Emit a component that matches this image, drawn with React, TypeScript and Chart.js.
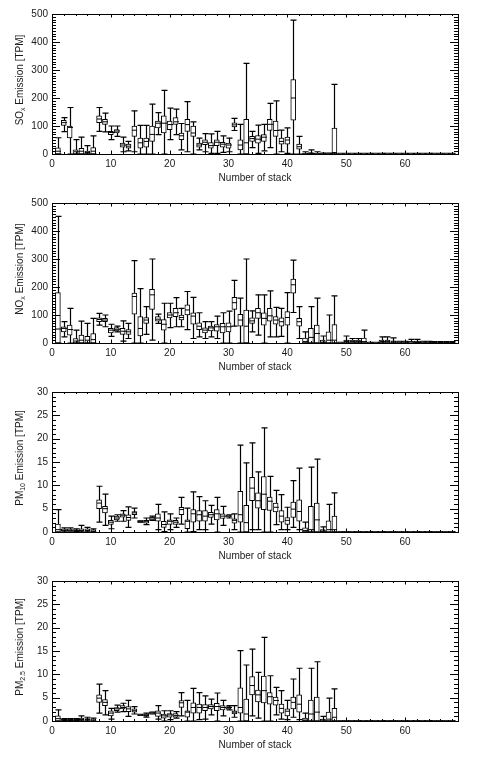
import React, { useEffect, useRef } from "react";
import { Chart, registerables } from "chart.js";

Chart.register(...registerables);

// ---------- categories ----------
const stacks = [
  1, 2, 3, 4, 5, 6, 7, 8, 9, 10, 11, 12, 13, 14, 15, 16, 17, 18, 19, 20,
  21, 22, 23, 24, 25, 26, 27, 28, 29, 30, 31, 32, 33, 34, 35, 36, 37, 38, 39, 40,
  41, 42, 43, 44, 45, 46, 47, 48, 49, 50, 51, 52, 53, 54, 55, 56, 57, 58, 59, 60,
  61, 62, 63, 64, 65, 66, 67, 68,
];
const xTickLabels = [0, 10, 20, 30, 40, 50, 60];

// ---------- SOx ----------
const soxMin = [0, 80, 0, 0, 0, 0, 0, 81, 79, 51, 63, 8, 11, 8, 0, 0, 0, 69, 0, 51,
  69, 15, 8, 0, 15, 8, 2, 2, 6, 8, 84, 0, 0, 23, 2, 11, 23, 0, 8, 2,
  0, 0, 0, 0, 0, 0, 0, 0, 0, 0, 0, 0, 0, 0, 0, 0, 0, 0, 0, 0, 0, 0, 0, 0, 0, 0, 0, 0];
const soxQ1 = [0, 102, 57, 0, 0, 0, 0, 112, 106, 69, 75, 24, 21, 63, 21, 24, 45, 93, 75, 87,
  106, 51, 81, 63, 24, 33, 21, 30, 24, 21, 97, 15, 0, 45, 39, 45, 84, 63, 35, 35,
  121, 17, 0, 0, 0, 0, 0, 0, 0, 0, 0, 0, 0, 0, 0, 0, 0, 0, 0, 0, 0, 0, 0, 0, 0, 0, 0, 0];
const soxMed = [10, 112, 95, 8, 10, 5, 10, 125, 115, 77, 82, 32, 28, 85, 40, 45, 70, 110, 110, 105,
  115, 65, 105, 75, 32, 42, 30, 42, 35, 32, 104, 32, 40, 55, 53, 60, 106, 84, 45, 50,
  200, 26, 1, 2, 1, 1, 1, 5, 0, 0, 0, 0, 0, 0, 0, 0, 0, 0, 0, 0, 0, 0, 0, 0, 0, 0, 0, 0];
const soxQ3 = [22, 120, 100, 15, 20, 10, 23, 136, 124, 81, 87, 39, 35, 100, 57, 57, 100, 118, 136, 118,
  130, 75, 124, 100, 39, 51, 41, 51, 42, 39, 111, 51, 124, 63, 66, 69, 124, 118, 57, 60,
  266, 35, 3, 5, 3, 3, 3, 93, 2, 2, 2, 2, 2, 2, 2, 2, 2, 2, 2, 2, 2, 2, 2, 2, 2, 2, 2, 2];
const soxMax = [58, 130, 166, 51, 60, 30, 65, 166, 146, 100, 100, 60, 45, 154, 102, 102, 178, 148, 227, 164,
  160, 109, 187, 115, 57, 73, 72, 81, 65, 57, 127, 106, 324, 81, 103, 106, 181, 190, 85, 93,
  478, 63, 8, 15, 8, 3, 3, 249, 2, 2, 2, 2, 2, 2, 2, 2, 2, 2, 2, 2, 2, 2, 2, 2, 2, 2, 2, 2];

// ---------- NOx ----------
const noxMin = [0, 22, 0, 0, 0, 0, 0, 64, 58, 24, 40, 7, 16, 0, 0, 31, 10, 70, 0, 55,
  58, 58, 48, 16, 22, 16, 22, 16, 0, 0, 60, 0, 0, 40, 28, 0, 22, 22, 24, 0,
  109, 16, 0, 0, 0, 0, 0, 0, 0, 0, 0, 0, 0, 0, 0, 0, 0, 0, 0, 0, 0, 2, 0, 0, 0, 0, 0, 0];
const noxQ1 = [0, 40, 28, 0, 0, 0, 0, 76, 76, 36, 43, 31, 31, 103, 25, 70, 120, 78, 46, 90,
  94, 82, 100, 67, 48, 36, 43, 42, 36, 40, 120, 60, 0, 70, 88, 64, 78, 67, 60, 64,
  178, 60, 0, 0, 0, 0, 0, 0, 0, 0, 0, 0, 0, 0, 0, 0, 0, 0, 0, 0, 0, 2, 0, 0, 0, 0, 0, 0];
const noxMed = [50, 52, 48, 7, 10, 10, 12, 84, 82, 46, 49, 42, 40, 166, 52, 82, 172, 85, 67, 100,
  108, 91, 118, 96, 60, 46, 54, 58, 58, 58, 144, 82, 60, 79, 108, 88, 97, 82, 76, 91,
  208, 76, 5, 20, 34, 3, 10, 10, 0, 5, 5, 5, 5, 0, 0, 5, 5, 4, 3, 3, 4, 4, 3, 3, 2, 2, 2, 2];
const noxQ3 = [180, 58, 64, 16, 28, 24, 34, 90, 88, 52, 55, 52, 48, 178, 94, 91, 192, 94, 84, 109,
  124, 100, 136, 108, 72, 54, 60, 66, 70, 72, 163, 102, 118, 90, 124, 108, 124, 94, 90, 112,
  228, 88, 18, 52, 64, 10, 40, 66, 2, 10, 10, 10, 18, 2, 2, 10, 10, 8, 6, 6, 6, 7, 6, 6, 5, 5, 5, 5];
const noxMax = [452, 76, 124, 46, 78, 70, 88, 106, 100, 67, 60, 79, 70, 294, 194, 130, 300, 103, 142, 142,
  162, 124, 184, 163, 108, 76, 76, 96, 108, 114, 224, 160, 300, 115, 172, 172, 186, 127, 124, 180,
  296, 130, 40, 130, 160, 25, 100, 168, 2, 25, 16, 16, 46, 2, 2, 22, 22, 18, 6, 6, 13, 13, 6, 6, 5, 5, 5, 5];

// ---------- PM10 ----------
const pm10Min = [0, 0.2, 0.2, 0.1, 0, 0, 0, 2.1, 1.4, 0.7, 2.3, 2.3, 1.0, 3.0, 2.1, 1.6, 2.5, 0.5, 0.1, 0.5,
  1.0, 1.7, 0, 0.1, 0.5, 0.5, 1.7, 0, 1.4, 3.0, 0.5, 0, 0, 0.5, 0.5, 0, 0, 1.6, 0.5, 0.5,
  1.0, 0.5, 0, 0, 0, 0, 0, 0, 0, 0, 0, 0, 0, 0, 0, 0, 0, 0, 0, 0, 0, 0, 0, 0, 0, 0, 0, 0];
const pm10Q1 = [0, 0.3, 0.3, 0.2, 0.1, 0.1, 0.1, 5.0, 4.1, 1.6, 2.6, 3.2, 2.5, 3.7, 2.1, 1.9, 2.6, 2.3, 1.0, 1.6,
  1.6, 3.7, 0.7, 2.1, 2.3, 2.3, 3.1, 2.6, 2.9, 3.2, 1.9, 2.1, 0, 6.7, 5.1, 4.8, 4.6, 4.3, 2.1, 1.6,
  3.1, 2.3, 0, 0, 0, 0, 0, 0, 0, 0, 0, 0, 0, 0, 0, 0, 0, 0, 0, 0, 0, 0, 0, 0, 0, 0, 0, 0];
const pm10Med = [0.5, 0.4, 0.4, 0.3, 0.3, 0.3, 0.2, 6.2, 5.0, 2.1, 3.0, 3.6, 3.1, 4.1, 2.2, 2.3, 3.0, 3.0, 1.6, 2.3,
  2.1, 4.8, 2.3, 3.9, 3.7, 3.4, 3.7, 3.9, 3.4, 3.4, 2.5, 3.7, 2.0, 9.4, 6.7, 8.1, 6.6, 5.3, 3.4, 2.5,
  4.9, 4.4, 0.3, 0.5, 2.6, 0.2, 0.5, 0.5, 0, 0, 0, 0, 0, 0, 0, 0, 0, 0, 0, 0, 0, 0, 0, 0, 0, 0, 0, 0];
const pm10Q3 = [1.7, 0.6, 0.6, 0.5, 0.7, 0.7, 0.5, 6.9, 5.5, 2.5, 3.4, 3.9, 3.7, 4.4, 2.4, 2.5, 3.2, 3.9, 2.3, 2.6,
  2.5, 5.3, 2.6, 4.8, 4.6, 4.6, 4.2, 4.8, 3.9, 3.6, 2.8, 8.7, 5.7, 11.7, 8.4, 11.9, 7.5, 6.2, 4.6, 3.1,
  6.4, 6.9, 0.9, 5.5, 6.2, 0.5, 2.4, 3.4, 0.1, 0.1, 0.1, 0.1, 0.1, 0.1, 0.1, 0.1, 0.1, 0.1, 0.1, 0.1, 0.1, 0.1, 0.1, 0.1, 0.1, 0.1, 0.1, 0.1];
const pm10Max = [4.8, 0.9, 0.9, 0.7, 1.4, 1.0, 0.7, 9.8, 8.1, 3.4, 3.7, 4.6, 5.4, 5.1, 2.4, 3.0, 3.4, 5.9, 4.3, 3.9,
  3.0, 7.4, 5.1, 8.6, 7.6, 6.7, 5.7, 7.4, 5.5, 3.7, 3.9, 18.6, 14.8, 19.1, 12.9, 22.3, 11.9, 8.9, 8.0, 5.3,
  11.0, 13.7, 2.1, 13.9, 15.6, 1.1, 5.9, 8.4, 0.1, 0.1, 0.1, 0.1, 0.1, 0.1, 0.1, 0.1, 0.1, 0.1, 0.1, 0.1, 0.1, 0.1, 0.1, 0.1, 0.1, 0.1, 0.1, 0.1];

// ---------- PM2.5 ----------
const pm25Min = [0, 0.1, 0.1, 0.1, 0, 0, 0, 1.7, 1.3, 0.4, 1.9, 2.0, 1.0, 1.5, 1.2, 0.8, 1.5, 0.4, 0, 0.3,
  0.6, 1.1, 0, 0, 0.3, 0.4, 1.3, 0, 1.1, 2.4, 0.8, 0, 0, 1.1, 0.6, 0, 0, 1.3, 0.4, 0.3,
  0.8, 0.3, 0, 0, 0, 0, 0, 0, 0, 0, 0, 0, 0, 0, 0, 0, 0, 0, 0, 0, 0, 0, 0, 0, 0, 0, 0, 0];
const pm25Q1 = [0, 0.2, 0.2, 0.2, 0.1, 0.1, 0.1, 4.0, 3.3, 1.1, 2.2, 2.6, 2.0, 1.9, 1.2, 1.0, 1.5, 1.0, 0.6, 0.8,
  0.8, 2.9, 0.8, 1.7, 1.7, 2.2, 2.6, 2.2, 2.4, 2.6, 1.5, 1.7, 0, 5.6, 4.1, 3.9, 3.6, 3.4, 1.7, 1.1,
  2.6, 1.9, 0, 0, 0, 0, 0, 0, 0, 0, 0, 0, 0, 0, 0, 0, 0, 0, 0, 0, 0, 0, 0, 0, 0, 0, 0, 0];
const pm25Med = [0.5, 0.3, 0.3, 0.3, 0.3, 0.3, 0.2, 4.9, 4.0, 1.7, 2.6, 2.9, 2.6, 2.2, 1.3, 1.2, 1.7, 1.7, 1.1, 1.3,
  1.2, 3.9, 1.9, 2.9, 2.9, 2.9, 3.1, 3.1, 2.9, 2.9, 1.9, 2.9, 1.5, 7.6, 5.6, 6.5, 5.2, 4.4, 2.7, 2.1,
  4.0, 3.6, 0.2, 1.5, 1.9, 0.2, 0.4, 0.8, 0, 0, 0, 0, 0, 0, 0, 0, 0, 0, 0, 0, 0, 0, 0, 0, 0, 0, 0, 0];
const pm25Q3 = [1.1, 0.4, 0.4, 0.4, 0.6, 0.5, 0.4, 5.6, 4.6, 2.2, 2.9, 3.3, 3.1, 2.6, 1.4, 1.5, 1.9, 2.2, 1.5, 1.6,
  1.6, 4.4, 2.2, 3.9, 3.6, 3.5, 3.5, 3.8, 3.3, 3.1, 2.2, 7.1, 4.7, 9.5, 6.6, 9.6, 6.1, 5.1, 3.6, 2.6,
  5.1, 5.6, 0.6, 4.5, 5.1, 0.4, 1.9, 2.7, 0.1, 0.1, 0.1, 0.1, 0.1, 0.1, 0.1, 0.1, 0.1, 0.1, 0.1, 0.1, 0.1, 0.1, 0.1, 0.1, 0.1, 0.1, 0.1, 0.1];
const pm25Max = [2.4, 0.5, 0.5, 0.5, 1.1, 0.8, 0.6, 7.9, 6.5, 2.7, 3.4, 3.8, 4.4, 3.1, 1.4, 1.7, 1.9, 3.3, 2.2, 2.2,
  2.0, 6.1, 4.4, 7.0, 6.1, 5.4, 4.7, 6.0, 4.4, 3.3, 3.3, 15.1, 12.0, 15.4, 10.4, 17.9, 9.7, 7.2, 6.5, 4.4,
  9.0, 11.3, 1.7, 11.3, 12.7, 1.0, 4.9, 6.9, 0.1, 0.1, 0.1, 0.1, 0.1, 0.1, 0.1, 0.1, 0.1, 0.1, 0.1, 0.1, 0.1, 0.1, 0.1, 0.1, 0.1, 0.1, 0.1, 0.1];

const FONT = "'Liberation Sans', Arial, sans-serif";
const INK = "#1a1a1a";

type Panel = {
  main: string; sub: string; rest: string;
  yMax: number; yStep: number; yMinor: number;
  min: number[]; q1: number[]; med: number[]; q3: number[]; max: number[];
  top: number; height: number;
};

const panels: Panel[] = [
  { main: "SO", sub: "x", rest: " Emission [TPM]", yMax: 500, yStep: 100, yMinor: 10,
    min: soxMin, q1: soxQ1, med: soxMed, q3: soxQ3, max: soxMax, top: 0, height: 190 },
  { main: "NO", sub: "x", rest: " Emission [TPM]", yMax: 500, yStep: 100, yMinor: 10,
    min: noxMin, q1: noxQ1, med: noxMed, q3: noxQ3, max: noxMax, top: 189, height: 190 },
  { main: "PM", sub: "10", rest: " Emission [TPM]", yMax: 30, yStep: 5, yMinor: 1,
    min: pm10Min, q1: pm10Q1, med: pm10Med, q3: pm10Q3, max: pm10Max, top: 378, height: 190 },
  { main: "PM", sub: "2.5", rest: " Emission [TPM]", yMax: 30, yStep: 5, yMinor: 1,
    min: pm25Min, q1: pm25Q1, med: pm25Med, q3: pm25Q3, max: pm25Max, top: 567, height: 192 },
];

const PLOT_BOTTOM = 154;
const BOX_W = 5;
const CAP_HALF = 3;

function BoxPanel({ p }: { p: Panel }) {
  const ref = useRef<HTMLCanvasElement | null>(null);
  useEffect(() => {
    const canvas = ref.current;
    if (!canvas) return;
    const whiskers = {
      id: "whiskers",
      beforeDatasetsDraw(chart: any) {
        const { ctx, scales } = chart;
        const xs = scales.x, ys = scales.y;
        ctx.save();
        ctx.strokeStyle = "#000";
        ctx.lineWidth = 1.2;
        stacks.forEach((s, i) => {
          const x = Math.round(xs.getPixelForValue(s)) + 0.5;
          const yMin = ys.getPixelForValue(p.min[i]);
          const yMax = ys.getPixelForValue(p.max[i]);
          ctx.beginPath();
          ctx.moveTo(x, yMin);
          ctx.lineTo(x, yMax);
          ctx.moveTo(x - CAP_HALF, yMax);
          ctx.lineTo(x + CAP_HALF, yMax);
          ctx.moveTo(x - CAP_HALF, yMin);
          ctx.lineTo(x + CAP_HALF, yMin);
          ctx.stroke();
        });
        ctx.restore();
      },
      afterDatasetsDraw(chart: any) {
        const { ctx, scales } = chart;
        const xs = scales.x, ys = scales.y;
        ctx.save();
        ctx.strokeStyle = "#000";
        ctx.lineWidth = 1;
        stacks.forEach((s, i) => {
          const x = Math.round(xs.getPixelForValue(s)) + 0.5;
          const y = ys.getPixelForValue(p.med[i]);
          ctx.beginPath();
          ctx.moveTo(x - BOX_W / 2, y);
          ctx.lineTo(x + BOX_W / 2, y);
          ctx.stroke();
        });
        ctx.restore();
      },
    };
    const frame = {
      id: "frame",
      afterDraw(chart: any) {
        const { ctx, chartArea: a, scales } = chart;
        const xs = scales.x, ys = scales.y;
        ctx.save();
        ctx.strokeStyle = "#000";
        ctx.lineWidth = 1;
        ctx.strokeRect(Math.round(a.left) + 0.5, Math.round(a.top) + 0.5,
          Math.round(a.right - a.left), Math.round(a.bottom - a.top));
        ctx.beginPath();
        for (let v = xs.min; v <= xs.max; v += 2) {
          const x = Math.round(xs.getPixelForValue(v)) + 0.5;
          const len = v % 10 === 0 ? 3.5 : 2;
          ctx.moveTo(x, a.bottom); ctx.lineTo(x, a.bottom - len);
          ctx.moveTo(x, a.top); ctx.lineTo(x, a.top + len);
        }
        for (let k = 0; k * p.yMinor <= p.yMax + 1e-9; k++) {
          const v = k * p.yMinor;
          const y = Math.round(ys.getPixelForValue(v)) + 0.5;
          const major = Math.abs(v / p.yStep - Math.round(v / p.yStep)) < 1e-6;
          const len = major ? 8 : 4;
          ctx.moveTo(a.left, y); ctx.lineTo(a.left + len, y);
          ctx.moveTo(a.right, y); ctx.lineTo(a.right - len, y);
        }
        ctx.stroke();
        // y axis title with subscript
        const cx = 20;
        const cy = (a.top + a.bottom) / 2 - 4;
        ctx.translate(cx, cy);
        ctx.rotate(-Math.PI / 2);
        ctx.fillStyle = INK;
        ctx.textBaseline = "middle";
        ctx.textAlign = "left";
        const big = `10px ${FONT}`;
        const small = `7px ${FONT}`;
        ctx.font = big;
        const w1 = ctx.measureText(p.main).width;
        const w3 = ctx.measureText(p.rest).width;
        ctx.font = small;
        const w2 = ctx.measureText(p.sub).width;
        const start = -(w1 + w2 + w3) / 2;
        ctx.font = big;
        ctx.fillText(p.main, start, 0);
        ctx.font = small;
        ctx.fillText(p.sub, start + w1, 3);
        ctx.font = big;
        ctx.fillText(p.rest, start + w1 + w2, 0);
        ctx.restore();
      },
    };
    const chart = new Chart(canvas, {
      type: "bar",
      data: {
        datasets: [
          {
            data: stacks.map((s, i) => ({ x: s, y: [p.q1[i], p.q3[i]] })) as any,
            backgroundColor: "#ffffff",
            borderColor: "#000000",
            borderWidth: 1,
            borderSkipped: false,
            barThickness: BOX_W,
          },
        ],
      },
      options: {
        responsive: false,
        animation: false,
        devicePixelRatio: 1,
        layout: { padding: { top: 14, right: 19, left: 0, bottom: 0 } },
        plugins: { legend: { display: false }, tooltip: { enabled: false } },
        scales: {
          x: {
            type: "linear",
            min: 0,
            max: 69,
            offset: false,
            grid: { display: false, drawTicks: false },
            border: { display: false },
            ticks: {
              stepSize: 10,
              includeBounds: false,
              autoSkip: false,
              maxRotation: 0,
              padding: 4,
              color: INK,
              font: { family: FONT, size: 10 },
              callback: (v: any) => (xTickLabels.includes(Number(v)) ? String(v) : ""),
            },
            title: {
              display: true,
              text: "Number of stack",
              color: INK,
              font: { family: FONT, size: 10 },
              padding: { top: 0, bottom: p.height - 190 + 6 },
            },
            afterFit: (s: any) => { s.height = p.height - PLOT_BOTTOM; },
          },
          y: {
            min: 0,
            max: p.yMax,
            grid: { display: false, drawTicks: false },
            border: { display: false },
            ticks: {
              stepSize: p.yStep,
              padding: 4,
              color: INK,
              font: { family: FONT, size: 10 },
            },
            afterFit: (s: any) => { s.width = 52; },
          },
        },
      } as any,
      plugins: [whiskers, frame],
    });
    return () => chart.destroy();
  }, [p]);
  return (
    <canvas
      ref={ref}
      width={477}
      height={p.height}
      style={{ position: "absolute", left: 0, top: p.top, width: 477, height: p.height }}
    />
  );
}

export default function App() {
  return (
    <div style={{ position: "absolute", left: 0, top: 0, width: 477, height: 759, background: "#fff", overflow: "hidden" }}>
      {panels.map((p, i) => (
        <BoxPanel key={i} p={p} />
      ))}
    </div>
  );
}
